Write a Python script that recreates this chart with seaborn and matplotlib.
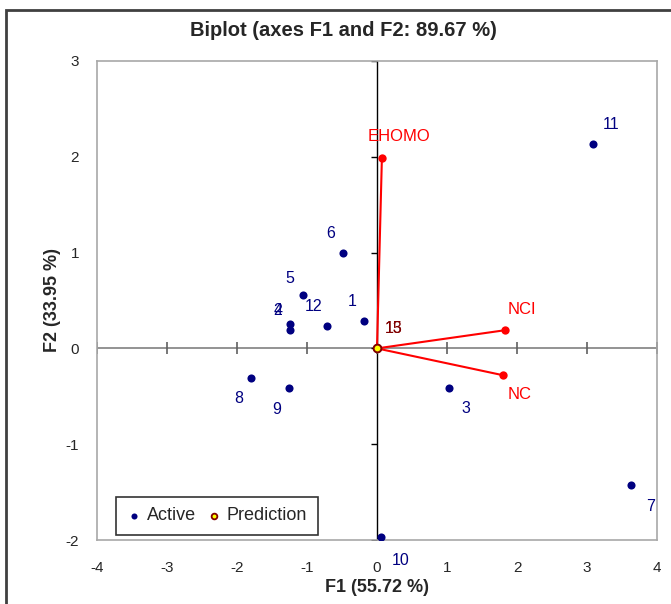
import matplotlib
matplotlib.use("Agg")
import matplotlib.pyplot as plt
import seaborn as sns
import pandas as pd
from matplotlib.patches import Rectangle

# ---- data ----
obs_labels = ["1", "2", "3", "4", "5", "6", "7", "8", "9", "10", "11", "12"]
obs_f1 = [-0.19, -1.24, 1.03, -1.24, -1.06, -0.49, 3.63, -1.80, -1.26, 0.06, 3.09, -0.71]
obs_f2 = [0.29, 0.19, -0.41, 0.25, 0.56, 1.00, -1.43, -0.31, -0.41, -1.97, 2.13, 0.23]

pred_labels = ["13", "15"]
pred_f1 = [0.0, 0.0]
pred_f2 = [0.0, 0.0]

var_labels = ["EHOMO", "NCI", "NC"]
var_f1 = [0.07, 1.83, 1.80]
var_f2 = [1.99, 0.19, -0.28]

x_ticks = [-4, -3, -2, -1, 0, 1, 2, 3, 4]
y_ticks = [-2, -1, 0, 1, 2, 3]

title = "Biplot (axes F1 and F2: 89.67 %)"
xlabel = "F1 (55.72 %)"
ylabel = "F2 (33.95 %)"

# label offsets in points (layout only)
obs_offsets = [(-8, 14), (-9, 14), (12, -15), (-9, 10), (-9, 12), (-9, 14),
               (14, -15), (-9, -15), (-9, -16), (14, -17), (13, 14), (-10, 14)]
pred_offset = (12, 14)
var_offsets = [(12, 15), (12, 15), (12, -14)]

# ---- style ----
sns.set_style("white")
plt.rcParams["font.family"] = ["Liberation Sans", "DejaVu Sans"]

NAVY = "#000080"
RED = "#FF0000"
DARKRED = "#800000"

fig = plt.figure(figsize=(6.71, 6.04), dpi=100)
ax = fig.add_axes([97 / 671, 64 / 604, 560 / 671, 479 / 604])

df_obs = pd.DataFrame({"F1": obs_f1, "F2": obs_f2, "lab": obs_labels})
df_pred = pd.DataFrame({"F1": pred_f1, "F2": pred_f2, "lab": pred_labels})
df_var = pd.DataFrame({"F1": var_f1, "F2": var_f2, "lab": var_labels})

ax.set_xlim(x_ticks[0], x_ticks[-1])
ax.set_ylim(y_ticks[0], y_ticks[-1])

# zero axes
ax.axhline(0, color="#808080", lw=1.2, zorder=1)
ax.axvline(0, color="#000000", lw=1.0, zorder=1)
ax.plot(x_ticks, [0] * len(x_ticks), ls="none", marker="|", ms=8, mew=1.2,
        color="#606060", zorder=1)
ax.plot([0] * len(y_ticks), y_ticks, ls="none", marker=0, ms=4, mew=1.0,
        color="#000000", zorder=1)

# variable vectors
for _, r in df_var.iterrows():
    ax.plot([0, r.F1], [0, r.F2], color=RED, lw=1.5, zorder=2)
sns.scatterplot(data=df_var, x="F1", y="F2", color=RED, s=36, edgecolor=RED,
                linewidth=0, ax=ax, zorder=3, legend=False)
for (_, r), off in zip(df_var.iterrows(), var_offsets):
    ax.annotate(r.lab, (r.F1, r.F2), xytext=off, textcoords="offset points",
                ha="center", va="center", color=RED, fontsize=12)

# observations
sns.scatterplot(data=df_obs, x="F1", y="F2", color=NAVY, s=34, edgecolor=NAVY,
                linewidth=0, ax=ax, zorder=4, label="Active")
for (_, r), off in zip(df_obs.iterrows(), obs_offsets):
    ax.annotate(r.lab, (r.F1, r.F2), xytext=off, textcoords="offset points",
                ha="center", va="center", color=NAVY, fontsize=11.5)

# predictions
sns.scatterplot(data=df_pred, x="F1", y="F2", color="#FFFF00", s=30,
                edgecolor=DARKRED, linewidth=1.3, ax=ax, zorder=5, label="Prediction")
for _, r in df_pred.iterrows():
    ax.annotate(r.lab, (r.F1, r.F2), xytext=pred_offset, textcoords="offset points",
                ha="center", va="center", color=DARKRED, fontsize=11.5)

ax.set_xticks(x_ticks)
ax.set_yticks(y_ticks)
ax.set_xticklabels([str(t) for t in x_ticks])
ax.set_yticklabels([str(t) for t in y_ticks])
ax.tick_params(axis="x", length=0, pad=15, labelsize=11)
ax.tick_params(axis="y", length=0, pad=13, labelsize=11)

for sp in ax.spines.values():
    sp.set_color("#A8A8A8")
    sp.set_linewidth(1.2)

ax.set_xlabel(xlabel, fontsize=13, fontweight="bold", labelpad=3)
ax.set_ylabel(ylabel, fontsize=13, fontweight="bold", labelpad=3)
fig.text(343 / 671, 1 - 30 / 604, title, ha="center", va="center",
         fontsize=14.5, fontweight="bold")

leg = ax.legend(loc="lower left", bbox_to_anchor=(0.034, 0.01), borderaxespad=0,
                ncol=2, frameon=True, fancybox=False, fontsize=13,
                handletextpad=0.3, columnspacing=0.6, handlelength=0.8,
                borderpad=0.6, markerscale=0.75)
leg.get_frame().set_edgecolor("black")
leg.get_frame().set_linewidth(1.2)

# outer frame (only top/left visible in the reference crop)
fig.patches.append(Rectangle((6 / 671, -0.5), 2.0, 0.5 + 1 - 10 / 604,
                             transform=fig.transFigure, fill=False,
                             edgecolor="#404040", lw=2, clip_on=False))

fig.savefig("out.png", dpi=100)
